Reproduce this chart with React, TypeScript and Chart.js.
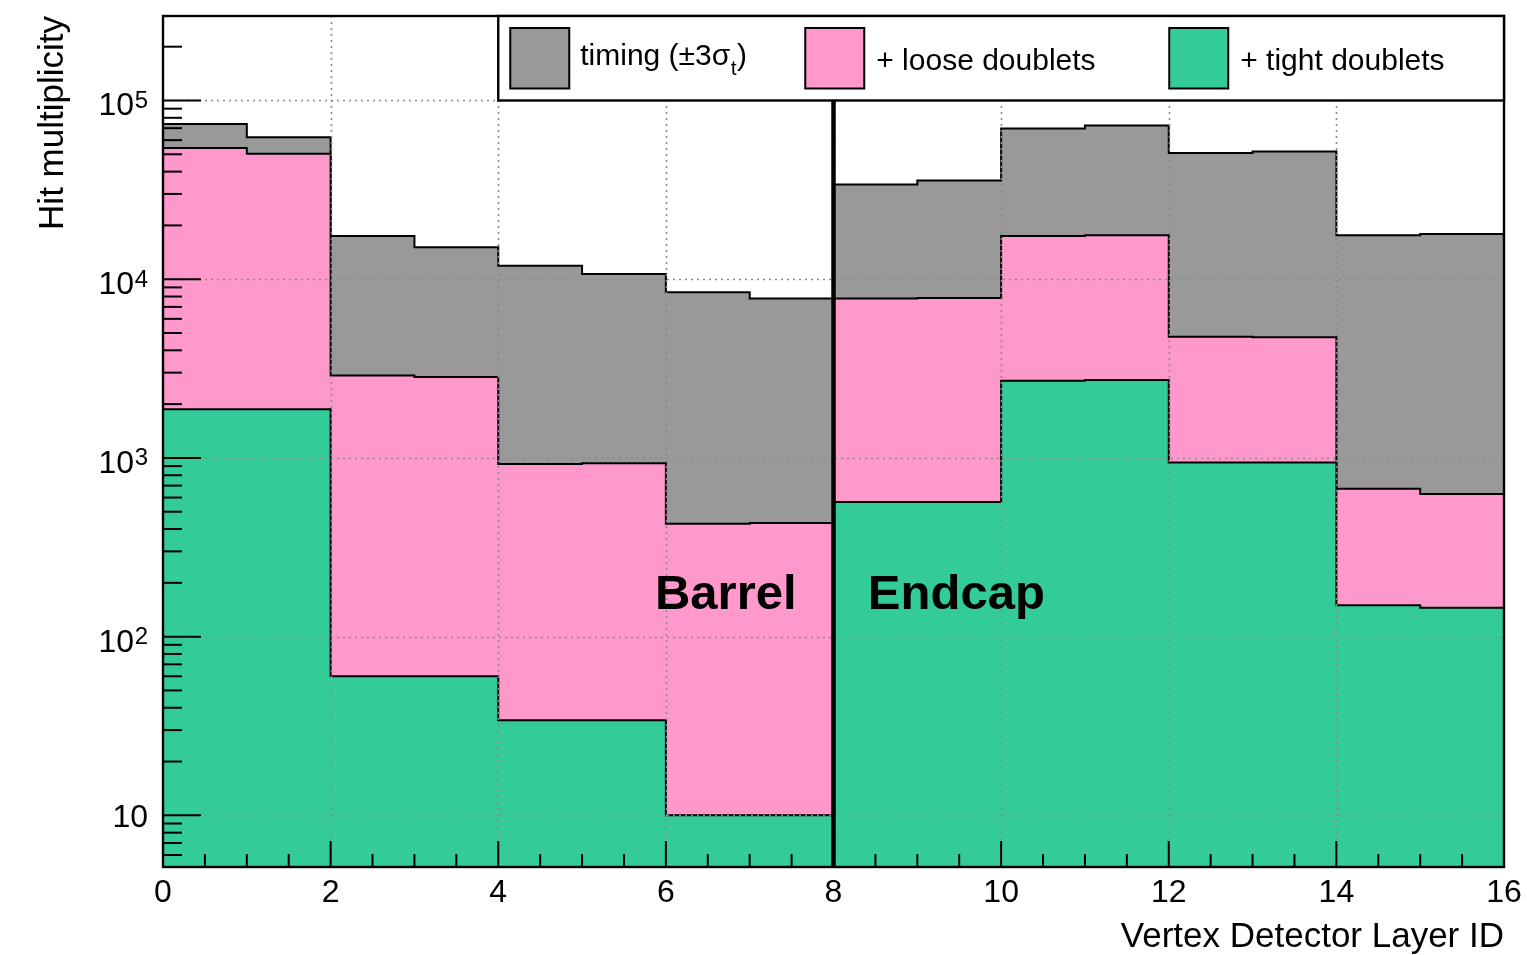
import React, { useEffect, useRef } from 'react';
import { Chart, registerables } from 'chart.js';

Chart.register(...registerables);

// ---- data ----
const layerIds = [0, 1, 2, 3, 4, 5, 6, 7, 8, 9, 10, 11, 12, 13, 14, 15];
const timingHits = [73950, 62300, 17470, 15100, 11900, 10700, 8460, 7790, 33870, 35640, 69600, 72400, 50900, 51800, 17600, 17900];
const looseHits = [54300, 50400, 2890, 2840, 925, 934, 428, 432, 7790, 7860, 17470, 17600, 4770, 4730, 673, 629];
const tightHits = [1875, 1875, 60, 60, 34, 34, 10, 10, 567, 567, 2700, 2730, 942, 942, 150, 145];
const xTickLabels = ['0', '2', '4', '6', '8', '10', '12', '14', '16'];
const yTickExponents = [1, 2, 3, 4, 5];
const legendLabels = ['timing (±3σ', '+ loose doublets', '+ tight doublets'];
const regionLabels = ['Barrel', 'Endcap'];
const xTitle = 'Vertex Detector Layer ID';
const yTitle = 'Hit multiplicity';

const FONT = '"Liberation Sans", Arial, Helvetica, sans-serif';
const GRAY = '#999999';
const PINK = '#ff99cc';
const GREEN = '#33cc99';

function steps(values: number[]) {
  const pts = layerIds.map((x, i) => ({ x, y: values[i] }));
  pts.push({ x: layerIds[layerIds.length - 1] + 1, y: values[values.length - 1] });
  return pts;
}

const decorPlugin = {
  id: 'rootDecor',
  afterDatasetsDraw(chart: any) {
    const { ctx, chartArea: a, scales } = chart;
    const xs = scales.x;
    const ys = scales.y;
    const px = (v: number) => xs.getPixelForValue(v);
    const py = (v: number) => ys.getPixelForValue(v);
    const line = (x1: number, y1: number, x2: number, y2: number) => {
      ctx.beginPath();
      ctx.moveTo(x1, y1);
      ctx.lineTo(x2, y2);
      ctx.stroke();
    };
    ctx.save();

    // grid (dotted, drawn over the histograms as in ROOT)
    ctx.strokeStyle = '#8a8a8a';
    ctx.lineWidth = 1.6;
    ctx.setLineDash([2, 4]);
    xTickLabels.forEach((l) => {
      const v = Number(l);
      if (v <= xs.min || v >= xs.max) return;
      const x = Math.round(px(v)) + 0.5;
      line(x, a.top, x, a.bottom);
    });
    yTickExponents.forEach((k) => {
      const y = Math.round(py(Math.pow(10, k))) + 0.5;
      line(a.left, y, a.right, y);
    });
    ctx.setLineDash([]);

    // ticks
    ctx.strokeStyle = '#000';
    ctx.lineWidth = 2;
    for (let v = xs.min; v <= xs.max + 1e-9; v += 0.5) {
      const major = Math.abs(v % 2) < 1e-9;
      const len = major ? 26 : 13;
      const x = px(v);
      line(x, a.bottom, x, a.bottom - len);
    }
    for (let k = 0; k <= 6; k++) {
      for (let m = 1; m <= 9; m++) {
        const v = m * Math.pow(10, k);
        if (v < ys.min || v > ys.max) continue;
        const len = m === 1 ? 38 : 19;
        const y = py(v);
        line(a.left, y, a.left + len, y);
      }
    }

    // frame
    ctx.lineWidth = 2.4;
    ctx.strokeRect(a.left, a.top, a.right - a.left, a.bottom - a.top);

    // barrel / endcap separator
    ctx.lineWidth = 4.5;
    line(px(8), py(1e5), px(8), a.bottom);

    // region labels
    ctx.fillStyle = '#000';
    ctx.font = `bold 49px ${FONT}`;
    ctx.textBaseline = 'alphabetic';
    ctx.textAlign = 'right';
    ctx.fillText(regionLabels[0], px(7.56), py(143));
    ctx.textAlign = 'left';
    ctx.fillText(regionLabels[1], px(8.41), py(143));

    // x tick labels
    ctx.font = `32px ${FONT}`;
    ctx.textAlign = 'center';
    xTickLabels.forEach((l) => {
      ctx.fillText(l, px(Number(l)), a.bottom + 35);
    });

    // y tick labels (10, 10^2, ...)
    const labelRight = a.left - 15;
    yTickExponents.forEach((k) => {
      const y = py(Math.pow(10, k));
      if (k === 1) {
        ctx.font = `32px ${FONT}`;
        ctx.textAlign = 'right';
        ctx.fillText('10', labelRight, y + 11.5);
      } else {
        ctx.font = `24px ${FONT}`;
        ctx.textAlign = 'right';
        const sup = String(k);
        const w = ctx.measureText(sup).width;
        ctx.fillText(sup, labelRight, y + 7.5);
        ctx.font = `32px ${FONT}`;
        ctx.fillText('10', labelRight - w - 0.5, y + 15);
      }
    });

    // axis titles
    ctx.font = `35px ${FONT}`;
    ctx.textAlign = 'right';
    ctx.fillText(xTitle, a.right, a.bottom + 80);
    ctx.save();
    ctx.translate(63, a.top);
    ctx.rotate(-Math.PI / 2);
    ctx.textAlign = 'right';
    ctx.fillText(yTitle, 0, 0);
    ctx.restore();

    // legend
    const lx = px(4);
    const ly = a.top;
    const lb = py(1e5);
    ctx.fillStyle = '#fff';
    ctx.fillRect(lx, ly, a.right - lx, lb - ly);
    ctx.strokeStyle = '#000';
    ctx.lineWidth = 2.4;
    ctx.strokeRect(lx, ly, a.right - lx, lb - ly);
    const colors = [GRAY, PINK, GREEN];
    const boxOffsets = [12, 307, 671];
    const boxW = 59;
    const boxTop = ly + 12;
    const boxH = lb - ly - 24;
    colors.forEach((c, i) => {
      const bx = lx + boxOffsets[i];
      ctx.fillStyle = c;
      ctx.fillRect(bx, boxTop, boxW, boxH);
      ctx.lineWidth = 2;
      ctx.strokeStyle = '#000';
      ctx.strokeRect(bx, boxTop, boxW, boxH);
    });
    ctx.fillStyle = '#000';
    ctx.textAlign = 'left';
    // timing entry with subscript
    {
      let tx = lx + boxOffsets[0] + boxW + 11;
      const base = ly + 48.5;
      ctx.font = `30px ${FONT}`;
      ctx.fillText(legendLabels[0], tx, base);
      tx += ctx.measureText(legendLabels[0]).width;
      ctx.font = `21px ${FONT}`;
      ctx.fillText('t', tx + 0.5, base + 10.5);
      tx += ctx.measureText('t').width + 1;
      ctx.font = `30px ${FONT}`;
      ctx.fillText(')', tx, base);
    }
    ctx.font = `30px ${FONT}`;
    ctx.fillText(legendLabels[1], lx + boxOffsets[1] + boxW + 12, ly + 54);
    ctx.fillText(legendLabels[2], lx + boxOffsets[2] + boxW + 12, ly + 54);

    ctx.restore();
  },
};

export default function App() {
  const ref = useRef<HTMLCanvasElement | null>(null);
  useEffect(() => {
    if (!ref.current) return;
    const mk = (label: string, values: number[], color: string) => ({
      label,
      data: steps(values),
      stepped: 'before' as const,
      fill: 'start' as const,
      backgroundColor: color,
      borderColor: '#000',
      borderWidth: 2,
      pointRadius: 0,
      pointHoverRadius: 0,
      tension: 0,
    });
    const chart = new Chart(ref.current, {
      type: 'line',
      data: {
        datasets: [
          mk('+ tight doublets', tightHits, GREEN),
          mk('+ loose doublets', looseHits, PINK),
          mk('timing', timingHits, GRAY),
        ],
      },
      options: {
        animation: false,
        responsive: false,
        events: [],
        layout: { padding: { left: 163, top: 16, right: 23, bottom: 88 } },
        plugins: { legend: { display: false }, tooltip: { enabled: false } },
        scales: {
          x: { type: 'linear', min: 0, max: 16, display: false },
          y: { type: 'logarithmic', min: 5.14, max: 297000, display: false },
        },
      },
      plugins: [decorPlugin],
    } as any);
    return () => chart.destroy();
  }, []);
  return (
    <div style={{ position: 'absolute', left: 0, top: 0, width: 1527, height: 955, background: '#fff' }}>
      <canvas ref={ref} width={1527} height={955} />
    </div>
  );
}
